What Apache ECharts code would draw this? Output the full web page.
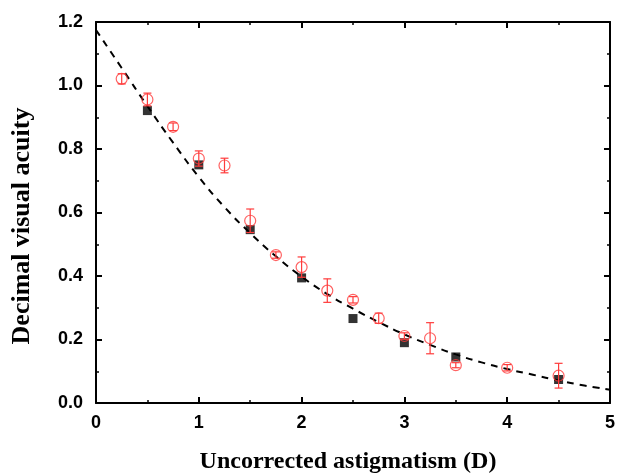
<!DOCTYPE html>
<html><head><meta charset="utf-8">
<script src="https://cdn.jsdelivr.net/npm/echarts@6/dist/echarts.min.js"></script>
<style>html,body{margin:0;padding:0;background:#fff}#c{width:618px;height:475px}</style>
</head><body><div id="c"></div>
<script>
const xTicks = [0, 1, 2, 3, 4, 5];
const squareX = [0.5, 1.0, 1.5, 2.0, 2.5, 3.0, 3.5, 4.5];
const squareY = [0.921, 0.750, 0.546, 0.394, 0.266, 0.190, 0.145, 0.074];
const circleX = [0.25, 0.5, 0.75, 1.0, 1.25, 1.5, 1.75, 2.0, 2.25, 2.5, 2.75, 3.0, 3.25, 3.5, 4.0, 4.5];
const circleY = [1.021, 0.956, 0.870, 0.770, 0.748, 0.574, 0.466, 0.428, 0.354, 0.325, 0.267, 0.211, 0.204, 0.119, 0.111, 0.086];
const circleErr = [0.016, 0.020, 0.012, 0.024, 0.023, 0.037, 0.010, 0.032, 0.037, 0.010, 0.016, 0.010, 0.049, 0.008, 0.010, 0.039];
const fitX = [0, 0.25, 0.5, 0.75, 1.0, 1.25, 1.5, 1.75, 2.0, 2.25, 2.5, 2.75, 3.0, 3.25, 3.5, 3.75, 4.0, 4.25, 4.5, 4.75, 5.0];
const fitY = [1.175, 1.055, 0.935, 0.82, 0.712, 0.617, 0.535, 0.462, 0.398, 0.343, 0.297, 0.255, 0.216, 0.183, 0.153, 0.128, 0.107, 0.089, 0.071, 0.055, 0.042];

const red = '#ff3b3b';
const chart = echarts.init(document.getElementById('c'));
const tickFont = {fontFamily: 'Liberation Sans', fontWeight: 'bold', fontSize: 18, color: '#000'};
const axLine = {show: true, onZero: false, lineStyle: {color: '#000', width: 2}};
const tick = {show: true, inside: true, length: 6, lineStyle: {color: '#000', width: 2}};
const minor = {show: true, splitNumber: 2, length: 3, lineStyle: {color: '#000', width: 1.5}};

chart.setOption({
  animation: false,
  grid: {left: 96, right: 6, top: 22, bottom: 72},
  graphic: [
    {type: 'text', x: 22, y: 226, rotation: Math.PI / 2,
     style: {text: 'Decimal visual acuity', fontFamily: 'Liberation Serif', fontWeight: 'bold', fontSize: 26,
             fill: '#000', align: 'center', verticalAlign: 'middle'}},
    {type: 'text', x: 348, y: 462,
     style: {text: 'Uncorrected astigmatism (D)', fontFamily: 'Liberation Serif', fontWeight: 'bold', fontSize: 24,
             fill: '#000', align: 'center', verticalAlign: 'middle'}}
  ],
  xAxis: [
    {type: 'value', min: 0, max: 5, interval: 1, position: 'bottom',
     axisLine: axLine, axisTick: tick, minorTick: minor, splitLine: {show: false},
     axisLabel: Object.assign({margin: 11}, tickFont)},
    {type: 'value', min: 0, max: 5, interval: 1, position: 'top',
     axisLine: axLine, axisTick: tick, minorTick: minor, splitLine: {show: false}, axisLabel: {show: false}}
  ],
  yAxis: [
    {type: 'value', min: 0, max: 1.2, interval: 0.2, position: 'left',
     axisLine: axLine, axisTick: tick, minorTick: minor, splitLine: {show: false},
     axisLabel: Object.assign({margin: 13, formatter: v => v.toFixed(1)}, tickFont)},
    {type: 'value', min: 0, max: 1.2, interval: 0.2, position: 'right',
     axisLine: axLine, axisTick: tick, minorTick: minor, splitLine: {show: false}, axisLabel: {show: false}}
  ],
  series: [
    {type: 'line', data: fitX.map((x, i) => [x, fitY[i]]), smooth: true, showSymbol: false, z: 2,
     lineStyle: {color: '#000', width: 2, type: [7, 6]}},
    {type: 'scatter', data: squareX.map((x, i) => [x, squareY[i]]), symbol: 'rect', symbolSize: 9, z: 3,
     itemStyle: {color: '#000'}},
    {type: 'scatter', data: circleX.map((x, i) => [x, circleY[i]]), symbol: 'circle', symbolSize: 11, z: 4,
     itemStyle: {color: 'rgba(0,0,0,0)', borderColor: red, borderWidth: 1.2}},
    {type: 'custom', z: 5, data: circleX.map((x, i) => [x, circleY[i], circleErr[i]]),
     renderItem: function (params, api) {
       const x = api.value(0), y = api.value(1), e = api.value(2);
       const t = api.coord([x, y + e]), b = api.coord([x, y - e]);
       const w = 4;
       const st = {stroke: red, lineWidth: 1.2};
       return {type: 'group', children: [
         {type: 'line', shape: {x1: t[0], y1: t[1], x2: b[0], y2: b[1]}, style: st},
         {type: 'line', shape: {x1: t[0] - w, y1: t[1], x2: t[0] + w, y2: t[1]}, style: st},
         {type: 'line', shape: {x1: b[0] - w, y1: b[1], x2: b[0] + w, y2: b[1]}, style: st}
       ]};
     }}
  ]
});
</script></body></html>
